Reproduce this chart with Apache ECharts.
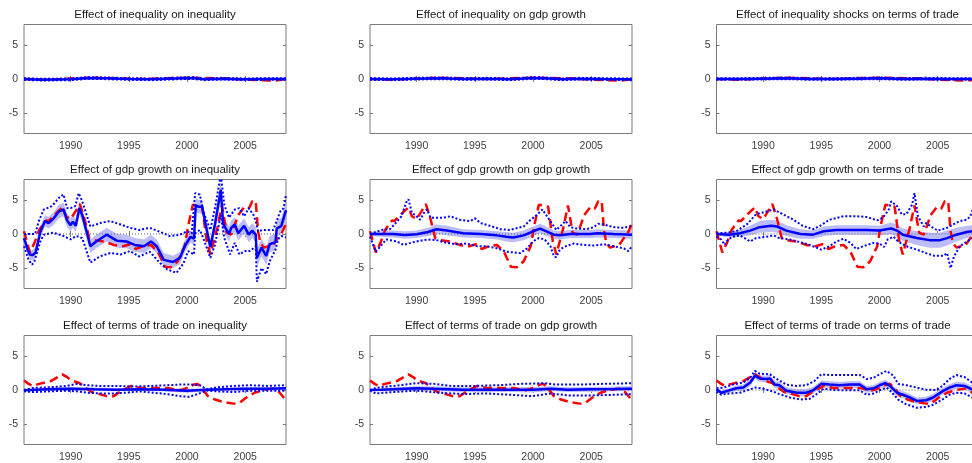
<!DOCTYPE html>
<html><head><meta charset="utf-8">
<script src="https://cdn.jsdelivr.net/npm/echarts@6/dist/echarts.min.js"></script>
<style>html,body{margin:0;padding:0;background:#fff}#c{width:972px;height:463px}</style>
</head><body><div id="c"></div><script>
// ---------- data ----------
const titles = [
  'Effect of inequality on inequality','Effect of inequality on gdp growth','Effect of inequality shocks on terms of trade',
  'Effect of gdp growth on inequality','Effect of gdp growth on gdp growth','Effect of gdp growth on terms of trade',
  'Effect of terms of trade on inequality','Effect of terms of trade on gdp growth','Effect of terms of trade on terms of trade'
];
const xTicks = [1990, 1995, 2000, 2005];
const yTicks = [-5, 0, 5];
const zeroLine = [[1986, 0], [2008.5, 0]];

// shock series (red dashed), one per row
const shock_row1 = [[1986,0],[1988,-0.1],[1991.7,0.2],[1993,0.15],[1996,0],[2000,0.2],[2003.2,0.1],[2005,-0.1],[2007.5,-0.25],[2008.5,0]];
const shock_row2 = [[1986,0.4],[1986.5,-2.7],[1986.9,-1.3],[1987.3,0.6],[1987.9,2.0],[1988.1,1.9],[1988.9,3.3],[1989.3,3.9],[1989.6,2.6],[1990.0,2.2],[1990.3,3.0],[1990.8,4.4],[1991.2,2.2],[1991.6,-0.6],[1992.0,-0.9],[1992.9,-1.1],[1993.7,-1.6],[1994.5,-1.8],[1995.1,-1.5],[1995.6,-2.2],[1996.2,-1.8],[1996.9,-1.6],[1997.5,-2.6],[1998.1,-4.8],[1998.6,-4.9],[1999.2,-4.0],[1999.8,-1.8],[2000.1,1.2],[2000.5,4.3],[2000.8,4.2],[2001.3,4.0],[2001.7,-1.1],[2002.0,-3.0],[2002.6,0.9],[2003.0,4.2],[2003.4,0.2],[2003.8,-0.1],[2004.4,2.8],[2004.9,3.9],[2005.3,3.7],[2005.6,4.8],[2005.9,4.8],[2006.1,0.4],[2006.3,-1.3],[2006.6,-2.0],[2007.0,-1.8],[2007.4,-1.6],[2007.8,-0.6],[2008.1,0.0],[2008.5,1.5]];
const shock_row3 = [[1986,1.4],[1986.4,0.9],[1986.75,0.6],[1987.3,0.9],[1987.8,1.1],[1988.3,1.3],[1988.9,1.9],[1989.3,2.3],[1989.7,1.9],[1990.1,1.4],[1990.8,1.0],[1991.3,0.3],[1991.8,-0.3],[1992.5,-0.6],[1993.1,-0.9],[1993.7,-0.9],[1994.3,-0.2],[1995.2,0.6],[1996.0,0.3],[1997.2,0.3],[1998.4,0.3],[1999.2,-0.1],[1999.7,0.1],[2000.6,0.8],[2000.9,0.9],[2001.3,0.2],[2001.8,-0.9],[2002.4,-1.4],[2003.2,-1.8],[2004.0,-2.0],[2004.5,-1.9],[2005.1,-1.1],[2005.8,-0.4],[2006.6,0.0],[2007.4,0.2],[2007.9,-0.3],[2008.5,-1.5]];

// panel 1,1
const med11 = [[1986,0],[1987.5,-0.1],[1990,-0.05],[1991.5,0.15],[1993,0.1],[1995,0],[1997,-0.05],[1999.5,0.1],[2000.5,0.15],[2001.5,-0.05],[2003,0.05],[2005,-0.05],[2007,0],[2008.5,0]];
const band11 = [[1986,-0.05,0.05],[1987.5,-0.15,-0.05],[1990,-0.1,0.0],[1991.5,0.1,0.2],[1993,0.05,0.15],[1995,-0.05,0.05],[1997,-0.1,0.0],[1999.5,0.05,0.15],[2000.5,0.1,0.2],[2001.5,-0.1,0.0],[2003,0.0,0.1],[2005,-0.1,0.0],[2007,-0.05,0.05],[2008.5,-0.05,0.05]];
const lo11 = [[1986,-0.12],[1987.5,-0.22],[1990,-0.17],[1991.5,0.03],[1993,-0.02],[1995,-0.12],[1997,-0.17],[1999.5,-0.02],[2000.5,0.03],[2001.5,-0.17],[2003,-0.07],[2005,-0.17],[2007,-0.12],[2008.5,-0.12]];
const hi11 = [[1986,0.12],[1987.5,0.02],[1990,0.07],[1991.5,0.27],[1993,0.22],[1995,0.12],[1997,0.07],[1999.5,0.22],[2000.5,0.27],[2001.5,0.07],[2003,0.17],[2005,0.07],[2007,0.12],[2008.5,0.12]];
// panel 1,2
const med12 = [[1986,0],[1988,-0.05],[1990,0.05],[1992,0.1],[1994,0.0],[1996,0.05],[1998,-0.05],[2000,0.15],[2001,0.1],[2002.5,-0.05],[2004,0.05],[2006,0],[2008.5,-0.05]];
const band12 = [[1986,-0.05,0.05],[1988,-0.1,0.0],[1990,0.0,0.1],[1992,0.05,0.15],[1994,-0.05,0.05],[1996,0.0,0.1],[1998,-0.1,0.0],[2000,0.1,0.2],[2001,0.05,0.15],[2002.5,-0.1,0.0],[2004,0.0,0.1],[2006,-0.05,0.05],[2008.5,-0.1,0.0]];
const lo12 = [[1986,-0.12],[1988,-0.17],[1990,-0.07],[1992,-0.02],[1994,-0.12],[1996,-0.07],[1998,-0.17],[2000,0.03],[2001,-0.02],[2002.5,-0.17],[2004,-0.07],[2006,-0.12],[2008.5,-0.17]];
const hi12 = [[1986,0.12],[1988,0.07],[1990,0.17],[1992,0.22],[1994,0.12],[1996,0.17],[1998,0.07],[2000,0.27],[2001,0.22],[2002.5,0.07],[2004,0.17],[2006,0.12],[2008.5,0.07]];
// panel 1,3
const med13 = [[1986,0],[1988,0.0],[1990,0.05],[1992,0.1],[1994,0.0],[1996,0.0],[1998,0.05],[2000,0.1],[2002,0.0],[2004,0.05],[2006,0],[2008.5,0]];
const band13 = [[1986,-0.05,0.05],[1988,-0.05,0.05],[1990,0.0,0.1],[1992,0.05,0.15],[1994,-0.05,0.05],[1996,-0.05,0.05],[1998,0.0,0.1],[2000,0.05,0.15],[2002,-0.05,0.05],[2004,0.0,0.1],[2006,-0.05,0.05],[2008.5,-0.05,0.05]];
const lo13 = [[1986,-0.12],[1988,-0.12],[1990,-0.07],[1992,-0.02],[1994,-0.12],[1996,-0.12],[1998,-0.07],[2000,-0.02],[2002,-0.12],[2004,-0.07],[2006,-0.12],[2008.5,-0.12]];
const hi13 = [[1986,0.12],[1988,0.12],[1990,0.17],[1992,0.22],[1994,0.12],[1996,0.12],[1998,0.17],[2000,0.22],[2002,0.12],[2004,0.17],[2006,0.12],[2008.5,0.12]];

// panel 2,1
const med21 = [[1986.0,-0.6],[1986.3,-2.2],[1986.5,-3.0],[1986.75,-3.1],[1987.0,-2.7],[1987.4,0.3],[1987.8,1.9],[1988.1,1.6],[1988.5,2.2],[1989.0,3.3],[1989.4,3.6],[1989.7,2.0],[1990.0,1.3],[1990.2,1.8],[1990.45,1.2],[1990.75,3.8],[1991.0,2.8],[1991.7,-1.8],[1992.2,-1.1],[1993.1,-0.1],[1994.0,-1.0],[1994.8,-1.1],[1995.5,-1.6],[1996.3,-1.8],[1996.9,-1.1],[1997.4,-1.8],[1998.0,-3.8],[1998.8,-4.1],[1999.4,-3.5],[1999.8,-1.8],[2000.3,-0.4],[2000.6,-0.7],[2000.75,4.2],[2001.0,4.0],[2001.3,4.0],[2001.6,1.4],[2002.0,-1.9],[2002.4,1.4],[2002.9,6.5],[2003.1,1.5],[2003.6,0.0],[2003.8,0.9],[2004.1,1.4],[2004.4,0.1],[2004.9,1.2],[2005.3,-0.1],[2005.6,0.5],[2005.9,-0.1],[2006.0,-3.5],[2006.4,-2.0],[2006.8,-3.2],[2007.1,-1.5],[2007.6,-1.2],[2007.7,0.8],[2008.1,1.2],[2008.5,3.5]];
const band21 = [[1986.0,-1.2,0.0],[1986.3,-2.9,-1.5],[1986.5,-3.7,-2.3],[1986.75,-3.9,-2.3],[1987.0,-3.5,-1.9],[1987.4,-0.5,1.1],[1987.8,1.1,2.8],[1988.1,0.8,2.5],[1988.5,1.3,3.1],[1989.0,2.3,4.3],[1989.4,2.6,4.6],[1989.7,1.0,3.0],[1990.0,0.4,2.3],[1990.2,0.9,2.8],[1990.45,0.3,2.2],[1990.75,2.8,4.8],[1991.0,1.8,3.8],[1991.7,-2.8,-0.8],[1992.2,-2.1,-0.1],[1993.1,-1.1,0.9],[1994.0,-2.0,0.0],[1994.8,-2.1,-0.1],[1995.5,-2.6,-0.6],[1996.3,-2.8,-0.8],[1996.9,-2.1,-0.1],[1997.4,-2.8,-0.8],[1998.0,-4.8,-2.8],[1998.8,-5.0,-3.2],[1999.4,-4.4,-2.6],[1999.8,-2.7,-0.9],[2000.3,-1.3,0.5],[2000.6,-1.6,0.2],[2000.75,3.2,5.2],[2001.0,3.0,5.0],[2001.3,3.0,5.0],[2001.6,0.4,2.4],[2002.0,-2.9,-0.9],[2002.4,0.3,2.5],[2002.9,5.2,7.8],[2003.1,0.4,2.6],[2003.6,-1.1,1.1],[2003.8,-0.2,2.0],[2004.1,0.3,2.5],[2004.4,-1.0,1.2],[2004.9,0.1,2.3],[2005.3,-1.2,1.0],[2005.6,-0.6,1.6],[2005.9,-1.2,1.0],[2006.0,-4.8,-2.2],[2006.4,-3.3,-0.7],[2006.8,-4.5,-1.9],[2007.1,-2.7,-0.3],[2007.6,-2.4,0.0],[2007.7,-0.4,2.0],[2008.1,0.0,2.4],[2008.5,2.2,4.8]];
const lo21 = [[1986,-1.8],[1986.4,-3.8],[1986.7,-4.5],[1986.9,-4.0],[1987.4,-1.1],[1987.7,-0.1],[1988.5,0.2],[1989.4,-0.3],[1990.0,-0.8],[1990.5,-0.3],[1991.0,-0.6],[1991.7,-4.2],[1992.5,-3.3],[1993.4,-2.8],[1994.3,-3.0],[1995.1,-2.5],[1995.9,-3.3],[1996.8,-2.6],[1997.7,-4.3],[1998.3,-5.2],[1999.1,-5.7],[1999.7,-4.3],[2000.1,-2.5],[2000.6,-3.0],[2000.7,0.1],[2001.1,0.6],[2001.4,-0.6],[2002.0,-3.5],[2002.4,-1.6],[2002.9,2.8],[2003.2,-0.6],[2003.7,-3.0],[2004.1,-1.3],[2004.5,-3.0],[2005.0,-2.5],[2005.4,-2.5],[2005.9,-1.8],[2006.0,-7.0],[2006.4,-5.0],[2006.8,-5.9],[2007.1,-4.0],[2007.6,-2.3],[2007.8,-0.8],[2008.1,-0.3],[2008.5,-0.5]];
const hi21 = [[1986,0.0],[1986.95,0.0],[1987.3,2.0],[1987.7,3.6],[1988.0,3.8],[1988.4,4.1],[1989.1,5.5],[1989.4,5.8],[1989.7,3.8],[1990.0,3.8],[1990.4,4.1],[1990.7,6.0],[1991.0,4.8],[1991.7,1.1],[1992.5,1.6],[1993.4,1.9],[1994.3,1.4],[1995.1,0.9],[1995.9,0.6],[1996.8,0.9],[1998.0,0.1],[1998.5,-0.3],[1999.4,-0.1],[2000.0,0.4],[2000.4,0.1],[2000.7,6.0],[2001.1,5.8],[2001.4,3.3],[2002.0,0.6],[2002.4,3.8],[2002.9,8.7],[2003.2,4.3],[2003.6,2.4],[2004.1,3.6],[2004.5,3.8],[2004.9,2.6],[2005.3,3.8],[2005.7,2.8],[2005.9,1.9],[2006.1,0.4],[2006.5,0.6],[2007.4,0.6],[2007.7,1.9],[2008.0,3.3],[2008.3,3.8],[2008.5,5.8]];
// panel 2,2
const med22 = [[1986,0],[1987,0.0],[1988,0.0],[1989,-0.15],[1990,-0.05],[1991,0.3],[1991.7,0.7],[1992.6,0.5],[1994,0.1],[1995.5,0.0],[1996.9,-0.2],[1997.7,-0.4],[1998.3,-0.5],[1999.2,-0.2],[2000,0.4],[2000.6,0.8],[2001,0.5],[2001.8,-0.1],[2002.3,-0.2],[2003.2,0.0],[2004.9,0.0],[2005.5,0.1],[2006.9,0.0],[2008.5,-0.1]];
const band22 = [[1986,-0.3,0.3],[1987,-0.4,0.4],[1988,-0.5,0.5],[1989,-0.7,0.4],[1990,-0.6,0.5],[1991,-0.3,0.9],[1991.7,0.0,1.4],[1992.6,-0.2,1.2],[1994,-0.5,0.7],[1995.5,-0.6,0.6],[1996.9,-0.8,0.4],[1997.7,-1.1,0.3],[1998.3,-1.2,0.2],[1999.2,-0.9,0.5],[2000,-0.3,1.1],[2000.6,0.1,1.5],[2001,-0.2,1.2],[2001.8,-0.7,0.5],[2002.3,-0.8,0.4],[2003.2,-0.6,0.6],[2004.9,-0.6,0.6],[2005.5,-0.5,0.7],[2006.9,-0.6,0.6],[2008.5,-0.7,0.5]];
const lo22 = [[1986,-0.4],[1986.5,-2.6],[1986.9,-1.8],[1987.4,-0.8],[1988.3,-1.1],[1988.9,-1.6],[1989.7,-1.2],[1990.6,-0.9],[1991.2,-0.8],[1991.7,-0.9],[1992.6,-1.3],[1993.4,-1.5],[1994.3,-1.4],[1995.2,-1.8],[1996.0,-1.8],[1996.9,-2.1],[1997.7,-2.6],[1998.3,-2.7],[1998.9,-2.8],[1999.5,-2.1],[2000.0,-1.1],[2000.5,-0.6],[2001.0,-0.8],[2001.5,-1.8],[2001.8,-3.3],[2002.0,-3.4],[2002.3,-2.3],[2002.8,-1.8],[2003.5,-1.4],[2004.3,-1.6],[2005.2,-1.7],[2006.1,-1.5],[2006.9,-1.8],[2007.8,-2.1],[2008.2,-2.5],[2008.5,-1.8]];
const hi22 = [[1986,0.0],[1987,0.6],[1987.7,0.7],[1988.1,1.4],[1988.7,2.6],[1989.1,4.6],[1989.3,5.1],[1989.6,3.1],[1990.0,2.6],[1990.3,2.1],[1990.7,3.3],[1990.9,3.6],[1991.2,2.4],[1992.3,2.4],[1992.9,2.6],[1993.7,2.1],[1994.6,1.9],[1995.0,2.3],[1995.5,1.6],[1996.3,1.2],[1997.2,0.7],[1998.0,0.6],[1999.2,1.1],[1999.8,2.1],[2000.2,2.6],[2000.8,3.6],[2001.2,2.6],[2001.6,1.6],[2002.0,0.6],[2002.5,1.4],[2002.8,1.9],[2003.2,1.0],[2003.8,0.8],[2004.6,0.7],[2005.2,1.0],[2005.6,1.5],[2006.1,1.4],[2006.9,1.0],[2007.8,0.9],[2008.5,1.2]];
// panel 2,3
const med23 = [[1986,0],[1987.1,-0.1],[1988,0.1],[1988.9,0.5],[1989.7,1.0],[1990.7,1.2],[1991.2,1.1],[1992,0.5],[1993.2,0],[1994.3,-0.1],[1995.2,0.4],[1996.3,0.6],[1997.5,0.6],[1998.9,0.6],[2000,0.5],[2000.6,0.7],[2001,0.8],[2001.5,0.5],[2002,-0.1],[2003.2,-0.6],[2004.3,-0.9],[2005.2,-0.9],[2005.8,-0.6],[2006.6,-0.1],[2007.5,0.3],[2008,0.4],[2008.5,0.4]];
const band23 = [[1986,-0.2,0.2],[1987.1,-0.5,0.3],[1988,-0.4,0.6],[1988.9,-0.2,1.2],[1989.7,0.2,1.9],[1990.7,0.3,2.1],[1991.2,0.2,2.0],[1992,-0.3,1.3],[1993.2,-0.7,0.7],[1994.3,-0.7,0.5],[1995.2,-0.3,1.1],[1996.3,-0.1,1.3],[1997.5,-0.1,1.3],[1998.9,-0.1,1.3],[2000,-0.2,1.2],[2000.6,-0.1,1.5],[2001,0.0,1.7],[2001.5,-0.4,1.4],[2002,-1.0,0.8],[2003.2,-1.6,0.4],[2004.3,-2.0,0.2],[2005.2,-2.0,0.2],[2005.8,-1.7,0.5],[2006.6,-1.1,0.9],[2007.5,-0.6,1.2],[2008,-0.5,1.3],[2008.5,-0.5,1.3]];
const lo23 = [[1986,-0.4],[1986.4,-0.8],[1986.7,-1.6],[1987.0,-0.8],[1987.4,-0.4],[1988.0,-0.2],[1988.9,-1.1],[1989.4,-0.6],[1990.3,-0.4],[1990.9,-0.2],[1991.4,-0.6],[1992.3,-0.8],[1993.2,-1.2],[1994.0,-1.6],[1994.6,-2.0],[1995.0,-2.3],[1995.7,-1.8],[1996.3,-1.1],[1996.9,-0.7],[1997.5,-1.3],[1998.0,-2.2],[1998.6,-1.8],[1999.5,-1.3],[2000.0,-1.4],[2000.4,-1.9],[2000.7,-0.8],[2001.2,-0.4],[2001.6,-1.1],[2002.3,-1.8],[2003.2,-2.3],[2004.0,-2.8],[2004.7,-3.2],[2005.5,-3.2],[2005.8,-2.8],[2006.1,-5.0],[2006.4,-3.3],[2006.9,-1.8],[2007.5,-1.1],[2008.0,-0.6],[2008.5,-0.3]];
const hi23 = [[1986,0.1],[1986.9,0.2],[1987.7,0.4],[1988.6,1.4],[1989.4,2.9],[1990.1,3.2],[1990.9,3.6],[1991.7,2.9],[1992.6,2.1],[1993.4,1.2],[1994.3,0.7],[1994.9,1.2],[1995.7,2.1],[1996.9,2.6],[1998.0,2.6],[1998.9,2.5],[1999.8,2.0],[2000.3,2.4],[2000.8,3.6],[2001.0,4.8],[2001.5,4.1],[2001.9,2.9],[2002.3,2.9],[2002.8,4.3],[2003.0,6.0],[2003.3,2.6],[2003.8,1.1],[2004.0,1.6],[2004.6,0.9],[2005.0,0.5],[2005.8,0.9],[2006.3,1.4],[2006.9,1.9],[2007.5,2.1],[2007.8,2.6],[2008.0,3.6],[2008.5,5.5]];

// panel 3,1
const med31 = [[1986,-0.05],[1988,0.1],[1990,0.2],[1992,0.1],[1994,0.05],[1996,0.1],[1998,0.05],[2000,-0.1],[2001.7,0.05],[2003,0.1],[2005,0.2],[2007,0.2],[2008.5,0.25]];
const band31 = [[1986,-0.2,0.1],[1988,-0.1,0.3],[1990,0.0,0.45],[1992,-0.15,0.35],[1994,-0.2,0.3],[1996,-0.1,0.3],[1998,-0.2,0.3],[2000,-0.4,0.2],[2001.7,-0.15,0.25],[2003,-0.1,0.3],[2005,0.0,0.4],[2007,0.0,0.4],[2008.5,0.0,0.45]];
const lo31 = [[1986,-0.2],[1986.8,-0.3],[1988.2,-0.2],[1989.7,-0.1],[1990.5,-0.2],[1991.4,-0.4],[1992.5,-0.5],[1993.7,-0.5],[1994.8,-0.4],[1996,-0.2],[1997.1,-0.4],[1998.3,-0.6],[1999.4,-0.9],[2000.2,-1.0],[2000.9,-0.6],[2001.7,-0.1],[2002.6,-0.2],[2004,-0.3],[2005.4,-0.1],[2006.9,-0.1],[2008.5,-0.1]];
const hi31 = [[1986,0.0],[1986.8,0.3],[1988.2,0.4],[1989.7,0.6],[1990.5,0.9],[1991.4,0.7],[1992.5,0.6],[1994,0.6],[1995.4,0.5],[1996.9,0.6],[1998.3,0.7],[1999.4,0.8],[2000.3,0.8],[2001.1,0.7],[2001.7,0.1],[2002.6,0.4],[2004,0.6],[2005.4,0.7],[2006.9,0.6],[2008.5,0.7]];
// panel 3,2
const med32 = [[1986,0],[1987,0.05],[1988.5,0.15],[1990,0.25],[1992,0.15],[1994,0.05],[1996,0.05],[1998,0.05],[2000,0.05],[2001.5,0.2],[2003,0.05],[2005,0.1],[2007,0.15],[2008.5,0.2]];
const band32 = [[1986,-0.1,0.1],[1987,-0.2,0.3],[1988.5,-0.15,0.45],[1990,-0.05,0.55],[1992,-0.2,0.5],[1994,-0.3,0.4],[1996,-0.3,0.4],[1998,-0.3,0.4],[2000,-0.35,0.45],[2001.5,-0.15,0.55],[2003,-0.3,0.4],[2005,-0.25,0.45],[2007,-0.2,0.5],[2008.5,-0.2,0.6]];
const lo32 = [[1986,-0.1],[1986.5,-0.5],[1988,-0.3],[1990,-0.1],[1992,-0.4],[1994,-0.6],[1996,-0.5],[1998,-0.7],[2000,-0.9],[2001.5,-0.5],[2003,-0.8],[2005,-0.8],[2007,-0.7],[2008.5,-0.6]];
const hi32 = [[1986,0.0],[1986.5,0.3],[1988,0.6],[1990,1.0],[1991.5,0.9],[1993,0.6],[1995,0.6],[1997,0.7],[1999,0.9],[2001,1.0],[2002,0.8],[2004,0.8],[2006,0.9],[2008.5,1.0]];
// panel 3,3
const med33 = [[1986,0.1],[1986.4,-0.4],[1987.1,-0.05],[1987.7,0.25],[1988.3,0.35],[1988.9,1.1],[1989.3,2.1],[1989.7,1.7],[1990.3,1.6],[1990.6,1.7],[1991.0,0.8],[1991.4,0.7],[1992.0,-0.1],[1992.9,-0.4],[1993.7,-0.4],[1994.3,-0.05],[1995.0,0.9],[1995.7,0.8],[1996.6,0.7],[1997.5,0.8],[1998.3,0.8],[1998.9,0.1],[1999.5,0.25],[2000.0,0.7],[2000.5,1.0],[2000.9,0.6],[2001.5,-0.4],[2002.0,-0.7],[2002.6,-1.1],[2003.2,-1.6],[2004.0,-1.5],[2004.6,-1.1],[2005.4,-0.2],[2006.0,0.35],[2006.6,0.7],[2007.3,0.6],[2007.95,0.1],[2008.5,-0.3]];
const band33 = [[1986,-0.2,0.4],[1986.4,-0.7,-0.1],[1987.1,-0.4,0.3],[1987.7,-0.15,0.65],[1988.3,-0.1,0.8],[1988.9,0.6,1.6],[1989.3,1.6,2.6],[1989.7,1.2,2.2],[1990.3,1.1,2.1],[1990.6,1.2,2.2],[1991.0,0.3,1.3],[1991.4,0.2,1.2],[1992.0,-0.6,0.4],[1992.9,-0.9,0.1],[1993.7,-0.9,0.1],[1994.3,-0.55,0.45],[1995.0,0.4,1.4],[1995.7,0.3,1.3],[1996.6,0.2,1.2],[1997.5,0.3,1.3],[1998.3,0.3,1.3],[1998.9,-0.4,0.6],[1999.5,-0.25,0.75],[2000.0,0.2,1.2],[2000.5,0.5,1.5],[2000.9,0.1,1.1],[2001.5,-0.9,0.1],[2002.0,-1.2,-0.2],[2002.6,-1.6,-0.6],[2003.2,-2.1,-1.1],[2004.0,-2.0,-1.0],[2004.6,-1.6,-0.6],[2005.4,-0.7,0.3],[2006.0,-0.15,0.85],[2006.6,0.2,1.2],[2007.3,0.1,1.1],[2007.95,-0.4,0.6],[2008.5,-0.8,0.2]];
const lo33 = [[1986,-0.25],[1986.4,-0.7],[1987.1,-0.5],[1988.0,-0.4],[1988.9,0.1],[1989.3,0.35],[1990.0,0.2],[1990.9,-0.25],[1991.4,-0.6],[1992.3,-1.1],[1993.2,-1.4],[1994.0,-1.3],[1994.6,-0.6],[1995.2,0.2],[1996.0,0.0],[1997.5,-0.05],[1998.3,-0.05],[1998.9,-0.7],[1999.5,-0.5],[2000.0,-0.05],[2000.6,0.35],[2001.0,-0.25],[2001.6,-1.4],[2002.3,-2.1],[2003.2,-2.6],[2004.0,-2.5],[2004.7,-2.1],[2005.4,-1.4],[2006.0,-0.7],[2006.6,-0.4],[2007.3,-0.5],[2007.95,-1.1],[2008.5,-1.2]];
const hi33 = [[1986,0.25],[1986.6,0.35],[1987.4,0.8],[1988.3,1.1],[1988.9,1.8],[1989.3,2.8],[1989.7,2.4],[1990.6,2.3],[1991.0,1.8],[1991.4,1.4],[1992.0,0.8],[1992.9,0.6],[1993.7,0.7],[1994.4,1.3],[1995.0,2.3],[1995.7,2.2],[1996.9,2.2],[1998.3,2.2],[1998.9,1.6],[1999.5,1.8],[2000.0,2.3],[2000.6,2.8],[2001.2,2.1],[2001.6,0.9],[2002.3,0.7],[2003.2,0.35],[2004.0,0.05],[2004.9,0.0],[2005.4,0.6],[2006.0,1.6],[2006.6,2.2],[2007.3,1.9],[2007.95,1.1],[2008.5,0.6]];

// ---------- build ----------
const panels = [
  [med11, band11, lo11, hi11, shock_row1],[med12, band12, lo12, hi12, shock_row1],[med13, band13, lo13, hi13, shock_row1],
  [med21, band21, lo21, hi21, shock_row2],[med22, band22, lo22, hi22, shock_row2],[med23, band23, lo23, hi23, shock_row2],
  [med31, band31, lo31, hi31, shock_row3],[med32, band32, lo32, hi32, shock_row3],[med33, band33, lo33, hi33, shock_row3]
];
const colLeft = [24, 370, 716.5], rowTop = [24.5, 179.5, 335.5], W = 262, H = 109;
const AX = '#7a7a7a', LBL = '#404040', FONT = 'Liberation Sans, Arial, sans-serif';
const BLUE = '#0000ff', RED = '#ff0000', BANDC = '#bcbcf8';

const grid = [], xAxis = [], yAxis = [], series = [], title = [];
panels.forEach((p, i) => {
  const r = Math.floor(i / 3), c = i % 3;
  grid.push({left: colLeft[c], top: rowTop[r], width: W, height: H, show: true, borderColor: AX, borderWidth: 1,
    backgroundColor: 'transparent', containLabel: false, outerBoundsMode: 'none'});
  title.push({text: titles[i], left: colLeft[c] + W / 2, top: rowTop[r] - 15.5, textAlign: 'center', padding: 0,
    textStyle: {fontSize: 11.5, fontWeight: 'normal', color: '#1a1a1a', fontFamily: FONT}});
  const tick = {show: true, inside: true, length: 3, lineStyle: {color: AX, width: 1}};
  xAxis.push({gridIndex: i, type: 'value', min: 1986, max: 2008.5, position: 'bottom',
    axisLine: {show: false}, splitLine: {show: false},
    axisTick: Object.assign({customValues: xTicks}, tick),
    axisLabel: {customValues: xTicks, formatter: v => String(v), color: LBL, fontSize: 10.5, fontFamily: FONT, margin: 7}});
  xAxis.push({gridIndex: i, type: 'value', min: 1986, max: 2008.5, position: 'top',
    axisLine: {show: false}, splitLine: {show: false},
    axisTick: Object.assign({customValues: xTicks}, tick), axisLabel: {show: false}});
  yAxis.push({gridIndex: i, type: 'value', min: -8, max: 8, position: 'left',
    axisLine: {show: false}, splitLine: {show: false},
    axisTick: Object.assign({customValues: yTicks}, tick),
    axisLabel: {customValues: yTicks, formatter: v => String(v), color: LBL, fontSize: 10.5, fontFamily: FONT, margin: 6}});
  yAxis.push({gridIndex: i, type: 'value', min: -8, max: 8, position: 'right',
    axisLine: {show: false}, splitLine: {show: false},
    axisTick: Object.assign({customValues: yTicks}, tick), axisLabel: {show: false}});
  const xi = 2 * i, yi = 2 * i;
  const [med, band, lo, hi, shock] = p;
  series.push({type: 'custom', xAxisIndex: xi, yAxisIndex: yi, z: 1, silent: true,
    data: band.map(b => [b[0], b[1], b[2]]), encode: {x: 0, y: [1, 2]},
    renderItem: (params, api) => {
      if (params.dataIndex !== 0) return null;
      const pts = [];
      band.forEach(b => pts.push(api.coord([b[0], b[2]])));
      for (let k = band.length - 1; k >= 0; k--) pts.push(api.coord([band[k][0], band[k][1]]));
      return {type: 'polygon', shape: {points: pts}, style: {fill: BANDC}};
    }});
  series.push({type: 'line', xAxisIndex: xi, yAxisIndex: yi, z: 2, data: zeroLine, symbol: 'none', silent: true,
    lineStyle: {color: '#606060', width: 1, type: [1, 2]}});
  series.push({type: 'line', xAxisIndex: xi, yAxisIndex: yi, z: 3, data: shock, symbol: 'none', silent: true,
    lineStyle: {color: RED, width: 2.5, type: [9, 5]}});
  [lo, hi].forEach(d => series.push({type: 'line', xAxisIndex: xi, yAxisIndex: yi, z: 4, data: d, symbol: 'none', silent: true,
    lineStyle: {color: BLUE, width: 2, type: [2, 2]}}));
  series.push({type: 'line', xAxisIndex: xi, yAxisIndex: yi, z: 5, data: med, symbol: 'none', silent: true,
    lineStyle: {color: BLUE, width: 2.5}});
});

const chart = echarts.init(document.getElementById('c'), null, {renderer: 'canvas'});
chart.setOption({animation: false, backgroundColor: '#fff', title, grid, xAxis, yAxis, series});
</script></body></html>
